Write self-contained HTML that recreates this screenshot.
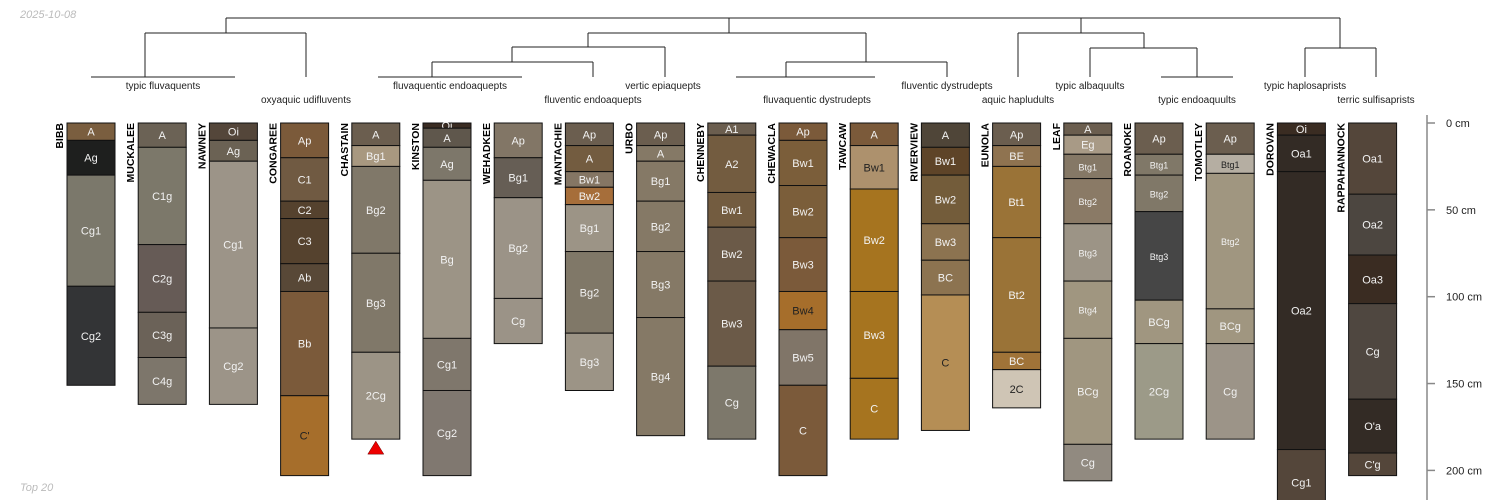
<!DOCTYPE html>
<html><head><meta charset="utf-8"><title>Soil profiles</title>
<style>
html,body{margin:0;padding:0;background:#fff;}
svg{display:block;font-family:"Liberation Sans",sans-serif;}
</style></head>
<body>
<svg id="chart" width="1500" height="500" viewBox="0 0 1500 500" xmlns="http://www.w3.org/2000/svg">
<text x="20" y="18" font-size="11" font-style="italic" fill="#bbb">2025-10-08</text>
<text x="20" y="491" font-size="11" font-style="italic" fill="#bbb">Top 20</text>
<g id="dendro" stroke="#222" stroke-width="1" fill="none"></g>
<g id="taxa" font-size="10" fill="#222" text-anchor="middle"></g>
<g id="profiles"></g>
<g id="axis"></g>
</svg>
<script>
const profileNames = ["BIBB","MUCKALEE","NAWNEY","CONGAREE","CHASTAIN","KINSTON","WEHADKEE","MANTACHIE","URBO","CHENNEBY","CHEWACLA","TAWCAW","RIVERVIEW","EUNOLA","LEAF","ROANOKE","TOMOTLEY","DOROVAN","RAPPAHANNOCK"];
const horizonNames = [
 ["A","Ag","Cg1","Cg2"],
 ["A","C1g","C2g","C3g","C4g"],
 ["Oi","Ag","Cg1","Cg2"],
 ["Ap","C1","C2","C3","Ab","Bb","C'"],
 ["A","Bg1","Bg2","Bg3","2Cg"],
 ["Oi","A","Ag","Bg","Cg1","Cg2"],
 ["Ap","Bg1","Bg2","Cg"],
 ["Ap","A","Bw1","Bw2","Bg1","Bg2","Bg3"],
 ["Ap","A","Bg1","Bg2","Bg3","Bg4"],
 ["A1","A2","Bw1","Bw2","Bw3","Cg"],
 ["Ap","Bw1","Bw2","Bw3","Bw4","Bw5","C"],
 ["A","Bw1","Bw2","Bw3","C"],
 ["A","Bw1","Bw2","Bw3","BC","C"],
 ["Ap","BE","Bt1","Bt2","BC","2C"],
 ["A","Eg","Btg1","Btg2","Btg3","Btg4","BCg","Cg"],
 ["Ap","Btg1","Btg2","Btg3","BCg","2Cg"],
 ["Ap","Btg1","Btg2","BCg","Cg"],
 ["Oi","Oa1","Oa2","Cg1"],
 ["Oa1","Oa2","Oa3","Cg","O'a","C'g"]
];
const horizonDepths = [
 [0,10,30,94,151],
 [0,14,70,109,135,162],
 [0,10,22,118,162],
 [0,20,45,55,81,97,157,203],
 [0,13,25,75,132,182],
 [0,3,14,33,124,154,203],
 [0,20,43,101,127],
 [0,13,28,37,47,74,121,154],
 [0,13,22,45,74,112,180],
 [0,7,40,60,91,140,182],
 [0,10,36,66,97,119,151,203],
 [0,13,38,97,147,182],
 [0,14,30,58,79,99,177],
 [0,13,25,66,132,142,164],
 [0,7,18,32,58,91,124,185,206],
 [0,18,30,51,102,127,182],
 [0,18,29,107,127,182],
 [0,7,28,188,226],
 [0,41,76,104,159,190,203]
];
const horizonColors = [
 ["#7a5e3f","#1e1f1e","#7b786b","#333436"],
 ["#6b6255","#7c786a","#665b56","#6b6258","#7d766b"],
 ["#54463a","#6b6254","#9c9488","#9c9488"],
 ["#7b5a3a","#705a42","#55422e","#55422e","#584837","#7b5a3a","#a66e2b"],
 ["#6b5e4f","#a89880","#807869","#807869","#9c9486"],
 ["#3a2c22","#5f574c","#7d776a","#9c9486","#7f776c","#807870"],
 ["#827666","#665e55","#9b9387","#9b9387"],
 ["#6b5e4f","#735c40","#857664","#a66e3a","#9c9486","#807868","#9c9486"],
 ["#6b5e4f","#857966","#857966","#857966","#857966","#857966"],
 ["#6b5e4f","#735c40","#735c40","#6b5a48","#6b5a48","#7d786b"],
 ["#7b5a3a","#7b5e3a","#7b5e3a","#7b5a3a","#a66e2b","#807568","#7b5a3a"],
 ["#7b5a3a","#ad916d","#a6741f","#a6741f","#a6741f"],
 ["#4f4538","#5e4428","#735c3a","#8c7350","#8c7350","#b58e55"],
 ["#6b5e4f","#8f7350","#9a7337","#9a7337","#a07338","#cfc5b5"],
 ["#6b5e4f","#a89a86","#857866","#8a7a66","#9c9486","#a09680","#a09680","#918a80"],
 ["#6b5e4f","#807868","#807868","#464646","#a09680","#9c9a88"],
 ["#6b5e4f","#b5aea2","#a09680","#a09680","#9c9488"],
 ["#3a2c22","#332b25","#332b25","#54463a"],
 ["#54463a","#4c4640","#3a2c22","#4f4740","#332b25","#54463a"]
];
const darkText = ["CONGAREE:C'","CHEWACLA:Bw4","TAWCAW:Bw1","RIVERVIEW:C","EUNOLA:2C","TOMOTLEY:Btg1"];
const depthTicks = [0,50,100,150,200];
const tickLabels = ["0 cm","50 cm","100 cm","150 cm","200 cm"];
const taxonLabels = ["typic fluvaquents","oxyaquic udifluvents","fluvaquentic endoaquepts","vertic epiaquepts","fluventic endoaquepts","fluvaquentic dystrudepts","fluventic dystrudepts","aquic hapludults","typic albaquults","typic endoaquults","typic haplosaprists","terric sulfisaprists"];

const NS="http://www.w3.org/2000/svg";
const Y0=123, PXCM=1.737, X0=67, DX=71.2, W=48;
function yScale(d){return Y0+d*PXCM;}
function xScale(i){return X0+i*DX;}
function mk(tag,attrs,parent){const e=document.createElementNS(NS,tag);for(const k in attrs)e.setAttribute(k,attrs[k]);parent.appendChild(e);return e;}

const prof=document.getElementById('profiles');
profileNames.forEach((name,i)=>{
  const g=mk('g',{},prof);
  
  
  const x=xScale(i);
  const t=mk('text',{transform:`translate(${x-4},${Y0}) rotate(-90)`,'text-anchor':'end','font-size':'10.5','font-weight':'bold',fill:'#000'},g);
  t.textContent=name;
  
  
  const d=horizonDepths[i];
  horizonNames[i].forEach((h,j)=>{
    const y1=yScale(d[j]), y2=yScale(d[j+1]);
    const r=mk('rect',{x:x,y:y1,width:W,height:y2-y1,fill:horizonColors[i][j],stroke:'#111','stroke-width':'1'},g);
    
    
    const small=h.startsWith('Btg');
    const lt=mk('text',{x:x+W/2,y:(y1+y2)/2+4,'text-anchor':'middle','font-size':small?'9':'11',fill:darkText.includes(name+':'+h)?'#222':'#f2f2f2'},g);
    lt.textContent=h;
    
    
  });
  if(name==="CHASTAIN"){
    const yb=yScale(d[d.length-1]);
    const tri=mk('polygon',{points:`${x+W/2},${yb+2} ${x+W/2-8},${yb+15} ${x+W/2+8},${yb+15}`,fill:'#e00',stroke:'#600','stroke-width':'0.5'},g);
    
    
  }
});

// depth axis
const ax=document.getElementById('axis');
const al=mk('line',{x1:1427,y1:115,x2:1427,y2:500,stroke:'#888','stroke-width':'1.5'},ax);


depthTicks.forEach((v,k)=>{
  const y=yScale(v);
  const tk=mk('line',{x1:1427,y1:y,x2:1435,y2:y,stroke:'#888','stroke-width':'1.5'},ax);
  
  
  const tl=mk('text',{x:1446,y:y+4,'font-size':'11',fill:'#222'},ax);
  tl.textContent=tickLabels[k];
  
  
});

// dendrogram
const dg=document.getElementById('dendro');
const segs=[
 [226,18,1340,18],[226,18,226,33],[729,18,729,33],[1081,18,1081,33],[1340,18,1340,48],
 [145,33,306,33],[145,33,145,77],[306,33,306,77],[91,77,235,77],
 [588,33,866,33],[588,33,588,47],[512,47,665,47],[665,47,665,77],[512,47,512,62],
 [432,62,593,62],[432,62,432,77],[593,62,593,77],[378,77,522,77],
 [866,33,866,62],[786,62,947,62],[786,62,786,77],[947,62,947,77],[736,77,875,77],
 [1018,33,1144,33],[1018,33,1018,77],[1144,33,1144,48],[1090,48,1197,48],[1090,48,1090,77],[1197,48,1197,77],[1161,77,1233,77],
 [1305,48,1376,48],[1305,48,1305,77],[1376,48,1376,77]
];
segs.forEach(s=>{
  const l=mk('line',{x1:s[0],y1:s[1],x2:s[2],y2:s[3]},dg);
  
  
});
const taxPos=[[163,89],[306,103],[450,89],[663,89],[593,103],[817,103],[947,89],[1018,103],[1090,89],[1197,103],[1305,89],[1376,103]];
const tx=document.getElementById('taxa');
taxonLabels.forEach((s,k)=>{
  const t=mk('text',{x:taxPos[k][0],y:taxPos[k][1]},tx);
  t.textContent=s;
  
  
});
</script>
</body></html>
